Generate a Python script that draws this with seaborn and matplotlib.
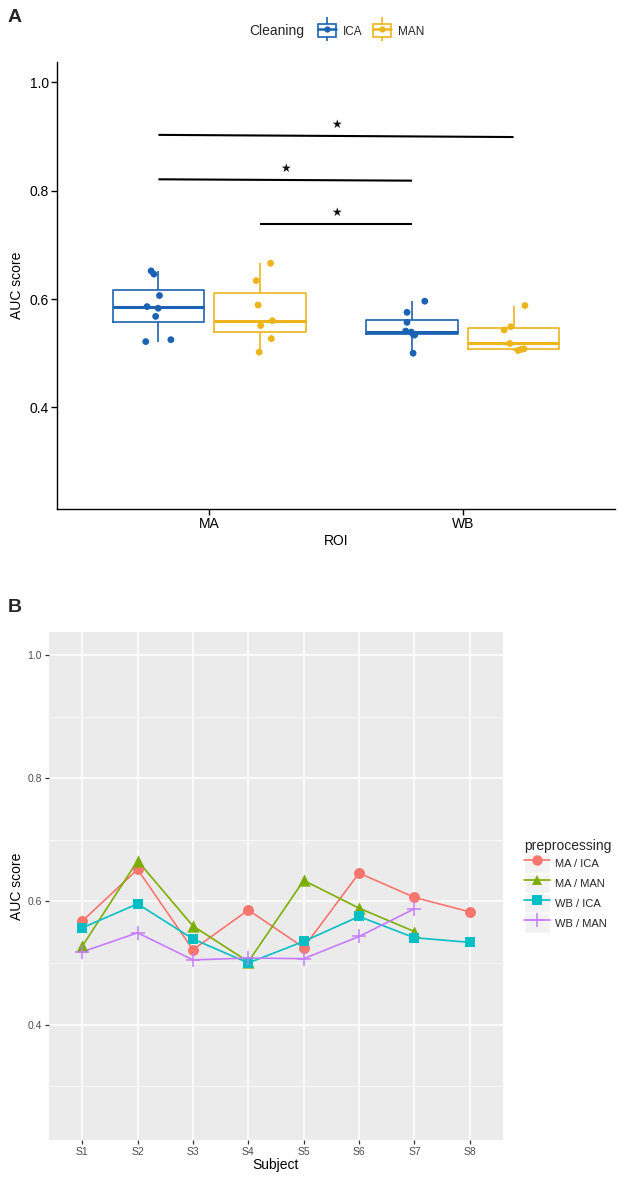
import numpy as np
import pandas as pd
import matplotlib
matplotlib.use("Agg")
import matplotlib.pyplot as plt
import seaborn as sns
from matplotlib.lines import Line2D
from matplotlib.patches import Patch

# ---------------- data ----------------
subjects = ["S1", "S2", "S3", "S4", "S5", "S6", "S7", "S8"]
rois = ["MA", "WB"]
cleanings = ["ICA", "MAN"]

ma_ica = [0.568, 0.652, 0.5215, 0.586, 0.525, 0.646, 0.6065, 0.583]
ma_man = [0.527, 0.666, 0.560, 0.502, 0.634, 0.589, 0.551, np.nan]
wb_ica = [0.557, 0.596, 0.539, 0.500, 0.535, 0.5755, 0.541, 0.5335]
wb_man = [0.518, 0.549, 0.505, 0.508, 0.507, 0.543, 0.588, np.nan]

y_ticks = [0.4, 0.6, 0.8, 1.0]
y_minor = [0.3, 0.5, 0.7, 0.9]
y_limits = (0.2125, 1.0375)

# significance brackets: (roi, cleaning) pairs, heights, label
sig_from = [("MA", "ICA"), ("MA", "ICA"), ("MA", "MAN")]
sig_to = [("WB", "MAN"), ("WB", "ICA"), ("WB", "ICA")]
sig_y_left = [0.903, 0.821, 0.739]
sig_y_right = [0.899, 0.8185, 0.739]
sig_text = ["*", "*", "*"]

# jitter offsets used in panel A (style, not data)
jitter = {
    ("MA", "ICA"): [-0.011, -0.029, -0.050, -0.045, 0.049, -0.018, 0.004, -0.001],
    ("MA", "MAN"): [0.045, 0.042, 0.049, -0.003, -0.015, -0.007, 0.003, 0.0],
    ("WB", "ICA"): [-0.02, 0.05, -0.003, 0.004, 0.004, -0.02, -0.025, 0.01],
    ("WB", "MAN"): [-0.015, -0.011, 0.018, 0.041, 0.03, -0.037, 0.045, 0.0],
}

series = {("MA", "ICA"): ma_ica, ("MA", "MAN"): ma_man,
          ("WB", "ICA"): wb_ica, ("WB", "MAN"): wb_man}

rows = []
for (r, c), vals in series.items():
    for s, v, j in zip(subjects, vals, jitter[(r, c)]):
        if not np.isnan(v):
            rows.append(dict(ROI=r, Cleaning=c, Subject=s, AUC=v,
                             preprocessing=f"{r} / {c}",
                             xpos=rois.index(r) + (-0.2 if c == "ICA" else 0.2) + j))
df = pd.DataFrame(rows)

# ---------------- style ----------------
sns.set_theme(style="white")
plt.rcParams["font.family"] = ["Liberation Sans", "DejaVu Sans"]

pal_a = {"ICA": "#1B63B2", "MAN": "#EDB41C"}
pal_b = {"MA / ICA": "#F8766D", "MA / MAN": "#7CAE00",
         "WB / ICA": "#00BFC4", "WB / MAN": "#C77CFF"}
markers_b = {"MA / ICA": "o", "MA / MAN": "^", "WB / ICA": "s", "WB / MAN": "+"}
msize_b = {"MA / ICA": 62, "MA / MAN": 78, "WB / ICA": 50, "WB / MAN": 110}

W, H = 630, 1179
fig = plt.figure(figsize=(W / 100, H / 100), dpi=100)

def frac(left, top, right, bottom):
    return [left / W, 1 - bottom / H, (right - left) / W, (bottom - top) / H]

# ---------------- panel A ----------------
axA = fig.add_axes(frac(57, 62, 615, 509))
sns.boxplot(data=df, x="ROI", y="AUC", hue="Cleaning", order=rois,
            hue_order=cleanings, palette=pal_a, fill=False, width=0.8, gap=0.1,
            showcaps=False, showfliers=False, linewidth=1.2,
            medianprops=dict(linewidth=2.2), legend=False, ax=axA)
sns.scatterplot(data=df, x="xpos", y="AUC", hue="Cleaning", hue_order=cleanings,
                palette=pal_a, s=24, linewidth=0, legend=False, ax=axA, zorder=3)

for (r1, c1), (r2, c2), yl, yr, t in zip(sig_from, sig_to, sig_y_left, sig_y_right, sig_text):
    x1 = rois.index(r1) + (-0.2 if c1 == "ICA" else 0.2)
    x2 = rois.index(r2) + (-0.2 if c2 == "ICA" else 0.2)
    axA.plot([x1, x2], [yl, yr], color="black", lw=1.5, solid_capstyle="butt")
    axA.text((x1 + x2) / 2, max(yl, yr) + 0.02, "★", ha="center", va="center",
             fontsize=8.5, family="DejaVu Sans", color="#111111")

axA.set_xlim(-0.6, 1.6)
axA.set_ylim(*y_limits)
axA.set_xticks([0, 1])
axA.set_xticklabels(rois)
axA.set_yticks(y_ticks)
axA.set_yticklabels([f"{v:.1f}" for v in y_ticks])
for sp in ["top", "right"]:
    axA.spines[sp].set_visible(False)
for sp in ["left", "bottom"]:
    axA.spines[sp].set_color("black")
    axA.spines[sp].set_linewidth(1.0)
axA.tick_params(axis="both", which="major", direction="out", length=4, width=1,
                color="black", labelsize=10, labelcolor="black", pad=2,
                left=True, bottom=True)
axA.set_xlabel("ROI", fontsize=10, color="black")
axA.set_ylabel("AUC score", fontsize=10, color="black")
axA.xaxis.set_label_coords(0.5, -0.055)
axA.yaxis.set_label_coords(-0.06, 0.5)
axA.grid(False)

# legend for panel A
handles_a = []
for c in cleanings:
    col = pal_a[c]
    handles_a.append((
        Line2D([], [], color=col, marker="|", markersize=17, mew=1.2, linestyle="none"),
        Patch(facecolor="white", edgecolor=col, linewidth=1.2),
        Line2D([], [], color=col, lw=1.8),
        Line2D([], [], color=col, marker="o", markersize=4.5, linestyle="none", mew=0),
    ))
fig.text(249 / W, 1 - 31 / H, "Cleaning", fontsize=10, ha="left", va="center")
fig.legend(handles_a, cleanings, ncol=2, loc="center left",
           bbox_to_anchor=(318 / W, 1 - 31 / H), frameon=False,
           handlelength=1.5, handleheight=1.2, columnspacing=0.9,
           handletextpad=0.6, fontsize=8.5, borderpad=0, borderaxespad=0)

# ---------------- panel B ----------------
axB = fig.add_axes(frac(49, 632, 503, 1140))
axB.set_facecolor("#EBEBEB")
for name in pal_b:
    d = df[df["preprocessing"] == name]
    sns.lineplot(data=d, x="Subject", y="AUC", color=pal_b[name], lw=1.2,
                 sort=False, ax=axB, zorder=2)
for name in pal_b:
    d = df[df["preprocessing"] == name]
    m = markers_b[name]
    if m == "+":
        sns.scatterplot(data=d, x="Subject", y="AUC", color=pal_b[name], marker=m,
                        s=msize_b[name], linewidth=1.1, ax=axB, zorder=3)
    else:
        sns.scatterplot(data=d, x="Subject", y="AUC", color=pal_b[name], marker=m,
                        s=msize_b[name], linewidth=0, ax=axB, zorder=3)

axB.set_xlim(-0.6, 7.6)
axB.set_ylim(*y_limits)
axB.set_yticks(y_ticks)
axB.set_yticklabels([f"{v:.1f}" for v in y_ticks])
axB.set_yticks(y_minor, minor=True)
axB.set_xticks(range(len(subjects)))
axB.set_xticklabels(subjects)
axB.grid(True, which="major", color="white", lw=1.1)
axB.grid(True, which="minor", axis="y", color="white", lw=0.5)
axB.set_axisbelow(True)
for sp in axB.spines.values():
    sp.set_visible(False)
axB.tick_params(axis="both", which="major", direction="out", length=3, width=0.9,
                color="#333333", labelsize=7.5, labelcolor="#4D4D4D", pad=2,
                left=True, bottom=True)
axB.tick_params(axis="both", which="minor", length=0)
axB.set_xlabel("Subject", fontsize=10, color="black")
axB.set_ylabel("AUC score", fontsize=10, color="black")
axB.xaxis.set_label_coords(0.5, -0.036)
axB.yaxis.set_label_coords(-0.055, 0.5)

handles_b = []
for name in pal_b:
    m = markers_b[name]
    handles_b.append((
        Patch(facecolor="#F2F2F2", edgecolor="white", linewidth=1),
        Line2D([], [], color=pal_b[name], lw=1.2, marker=m,
               markersize=(7.5 if m != "+" else 10), mew=(0 if m != "+" else 1.1)),
    ))
axB.legend(handles_b, list(pal_b), title="preprocessing", loc="center left",
           bbox_to_anchor=((524 - 49) / 454, 0.5), frameon=False, fontsize=8,
           title_fontsize=10, handlelength=2.3, handleheight=2.3,
           labelspacing=0.05, handletextpad=0.5, borderpad=0, borderaxespad=0,
           alignment="left")

# panel letters
fig.text(15 / W, 1 - 18 / H, "A", fontsize=14, weight="bold", ha="center", va="center")
fig.text(15 / W, 1 - 607 / H, "B", fontsize=14, weight="bold", ha="center", va="center")

fig.savefig("out.png", dpi=100)
